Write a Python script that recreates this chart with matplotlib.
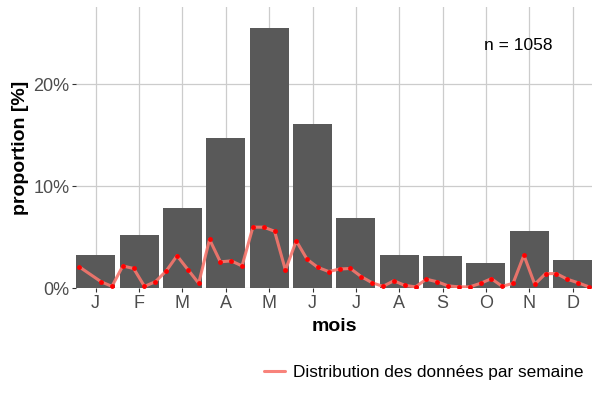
import matplotlib
matplotlib.use('Agg')
import matplotlib.pyplot as plt
import numpy as np

plt.rcParams['font.family'] = ['Liberation Sans', 'DejaVu Sans']

# proportion par mois (%)
mois = ['J', 'F', 'M', 'A', 'M', 'J', 'J', 'A', 'S', 'O', 'N', 'D']
prop_mois = [3.26, 5.2, 7.9, 14.7, 25.5, 16.1, 6.85, 3.26, 3.16, 2.5, 5.65, 2.77]

# distribution par semaine (%), 4 semaines par mois, la 2e semaine absente
semaine = [0, 2, 3, 4, 5, 6, 7, 8, 9, 10, 11, 12, 13, 14, 15, 16, 17, 18, 19,
           20, 21, 22, 23, 24, 25, 26, 27, 28, 29, 30, 31, 32, 33, 34, 35, 36,
           37, 38, 39, 40, 41, 42, 43, 44, 45, 46, 47]
prop_semaine = [2.1, 0.65, 0.2, 2.2, 1.95, 0.2, 0.65, 1.7, 3.2, 1.85, 0.5,
                4.8, 2.6, 2.7, 2.2, 6.0, 6.0, 5.6, 1.8, 4.65, 2.85, 2.05, 1.65,
                1.9, 1.95, 1.15, 0.55, 0.2, 0.75, 0.3, 0.15, 0.9, 0.65, 0.25, 0.15,
                0.15, 0.5, 0.95, 0.2, 0.5, 3.25, 0.4, 1.45, 1.45, 0.9, 0.55, 0.15]
n_total = 1058

fig, ax = plt.subplots(figsize=(6, 4), dpi=100)
fig.subplots_adjust(left=0.127, right=0.987, top=0.982, bottom=0.279)

x_mois = np.arange(1, 13)
ax.bar(x_mois, prop_mois, width=0.9, color='#595959', zorder=2)

x_sem = 0.625 + np.array(semaine) * 0.25
ax.plot(x_sem, prop_semaine, color='#F8766D', lw=2.2, alpha=0.9, zorder=3,
        solid_capstyle='round', label='Distribution des données par semaine')
ax.plot(x_sem, prop_semaine, 'o', color='#FF0000', ms=3.5, mec='none', zorder=4)

ax.text(10.75, 23.8, 'n = %d' % n_total, ha='center', va='center',
        fontsize=12.5, color='black')

ax.set_xlim(0.55, 12.45)
ax.set_ylim(0, 27.55)
ax.set_xticks(x_mois)
ax.set_xticklabels(mois)
ax.set_yticks([0, 10, 20])
ax.set_yticklabels(['0%', '10%', '20%'])
ax.tick_params(axis='both', labelsize=13, labelcolor='#4D4D4D', color='#333333',
               length=3, width=0.8, pad=2)
ax.grid(True, color='#CCCCCC', lw=0.9, zorder=0)
ax.set_axisbelow(True)
for s in ax.spines.values():
    s.set_visible(False)

ax.set_xlabel('mois', fontsize=14, fontweight='bold', labelpad=4)
ax.set_ylabel('proportion [%]', fontsize=14, fontweight='bold', labelpad=3)

fig.legend(loc='center right', bbox_to_anchor=(0.998, 0.07), frameon=False,
           fontsize=12.4, handlelength=1.2, handletextpad=0.45)

fig.savefig('out.png', dpi=100)
